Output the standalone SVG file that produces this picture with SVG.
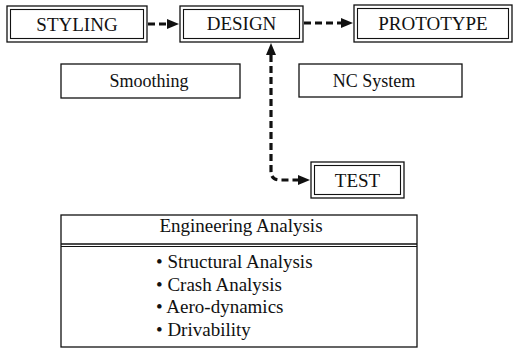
<svg xmlns="http://www.w3.org/2000/svg" width="514" height="348" viewBox="0 0 514 348" font-family="'Liberation Serif', 'DejaVu Serif', serif">
<defs>
<style>
.o{fill:#fff;stroke:#111;stroke-width:1.3}
.i{fill:none;stroke:#111;stroke-width:1.1}
.b{fill:#fff;stroke:#111;stroke-width:1.3}
text{font-family:'Liberation Serif','DejaVu Serif',serif;fill:#111}
.t{text-anchor:middle}
.l{font-size:19px}
.c{fill:none;stroke:#111;stroke-width:3.2;stroke-dasharray:7 4}
</style>
<marker id="ah" viewBox="0 0 12 10" refX="0" refY="5" markerWidth="12" markerHeight="10" markerUnits="userSpaceOnUse" orient="auto-start-reverse">
<path d="M0,0 L12,5 L0,10 z" fill="#111"/>
</marker>
</defs>
<rect width="514" height="348" fill="#fff"/>
<g id="connectors">
<path class="c" d="M148,24 H167" marker-end="url(#ah)"/>
<path class="c" d="M304,23 H341" marker-end="url(#ah)"/>
<path class="c" d="M271,55 V171 Q271,180 280,180 H298" marker-start="url(#ah)" marker-end="url(#ah)"/>
</g>
<g id="styling">
<rect class="o" x="7" y="6" width="140" height="36"/>
<rect class="i" x="10.5" y="9.5" width="133" height="29"/>
<text class="t" x="77" y="31" font-size="19">STYLING</text>
</g>
<g id="design">
<rect class="o" x="180" y="6" width="123" height="36"/>
<rect class="i" x="183.5" y="9.5" width="116" height="29"/>
<text class="t" x="241.5" y="30" font-size="19">DESIGN</text>
</g>
<g id="prototype">
<rect class="o" x="354" y="5" width="158" height="37"/>
<rect class="i" x="357.5" y="8.5" width="151" height="30"/>
<text class="t" x="433" y="30" font-size="19">PROTOTYPE</text>
</g>
<g id="smoothing">
<rect class="b" x="61" y="64" width="179" height="34"/>
<text class="t" x="149" y="87" font-size="18">Smoothing</text>
</g>
<g id="nc-system">
<rect class="b" x="299" y="64" width="163" height="33"/>
<text class="t" x="374" y="87" font-size="18">NC System</text>
</g>
<g id="test">
<rect class="o" x="311" y="162" width="93" height="36"/>
<rect class="i" x="314.5" y="165.5" width="86" height="29"/>
<text class="t" x="357.5" y="187" font-size="19">TEST</text>
</g>
<g id="engineering-analysis">
<rect class="b" x="61" y="215" width="356" height="132"/>
<line x1="61" y1="244" x2="417" y2="244" stroke="#111" stroke-width="1.3"/>
<line x1="61" y1="246.5" x2="417" y2="246.5" stroke="#111" stroke-width="1"/>
<text class="t" x="241" y="232" font-size="19">Engineering Analysis</text>
<text class="l" x="156" y="268">• Structural Analysis</text>
<text class="l" x="156" y="291">• Crash Analysis</text>
<text class="l" x="156" y="313">• Aero-dynamics</text>
<text class="l" x="156" y="336">• Drivability</text>
</g>
</svg>
